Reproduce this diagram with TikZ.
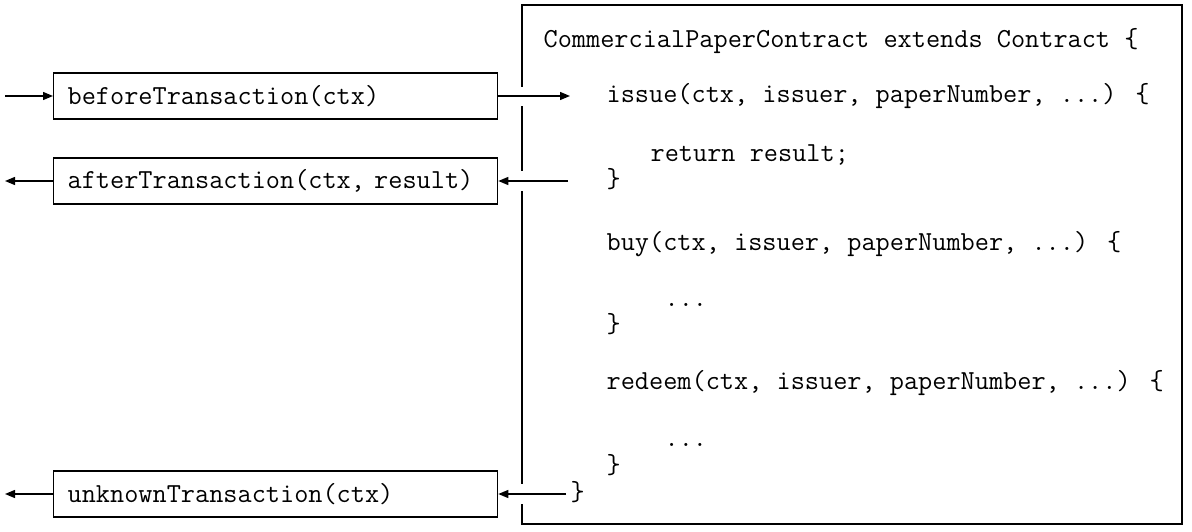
\documentclass[tikz,border=0pt]{standalone}
\usepackage{fontspec}
\usetikzlibrary{arrows.meta}
\newcommand{\codefont}{\ttfamily\fontsize{27.5}{32}\selectfont}
\tikzset{
  x=1pt,y=-1pt,
  every path/.style={line width=1.3pt},
  hook/.style={draw, line width=1.3pt, anchor=west, minimum height=46pt,
    inner xsep=14pt, inner ysep=0pt, text width=416pt, align=left,
    font=\codefont},
  code/.style={anchor=west, inner sep=0pt, text height=19pt, text depth=6pt,
    font=\codefont},
  arr/.style={-{Triangle[length=10pt,width=8pt]}, line width=1.3pt},
}
\begin{document}
\begin{tikzpicture}
\useasboundingbox (0,0) rectangle (1192,532);
% main box
\draw[line width=1.3pt] (522,5) rectangle (1182,524);
\fill[white] (515,87) rectangle (529,106);
\fill[white] (515,171) rectangle (529,191);
\fill[white] (515,484) rectangle (529,504);
% code
\node[code] (head) at (543,41) {CommercialPaperContract extends Contract \{};
\node[code] (issue) at (606,96) {issue(ctx, issuer, paperNumber, ...) \{};
\node[code] (ret) at (650,155) {return result;};
\node[code] (cissue) at (606,181) {\}};
\node[code] (buy) at (606,244) {buy(ctx, issuer, paperNumber, ...) \{};
\node[code] (dbuy) at (664,300) {...};
\node[code] (cbuy) at (606,326) {\}};
\node[code] (redeem) at (606,383) {redeem(ctx, issuer, paperNumber, ...) \{};
\node[code] (dred) at (664,440) {...};
\node[code] (cred) at (606,467) {\}};
\node[code] (call) at (570,494) {\}};
% hook boxes
\node[hook] (before) at (53,96) {beforeTransaction(ctx)};
\node[hook] (after) at (53,181) {afterTransaction(ctx, result)};
\node[hook] (unknown) at (53,494) {unknownTransaction(ctx)};
% free ends
\coordinate (inb) at (5,96);
\coordinate (outa) at (5,181);
\coordinate (outu) at (5,494);
% connectors
\draw[arr] (inb) -- (before.west);
\draw[arr] (before.east) -- ([xshift=-36pt]issue.west);
\draw[arr] ([xshift=-38pt]cissue.west) -- (after.east);
\draw[arr] (after.west) -- (outa);
\draw[arr] ([xshift=-4pt]call.west) -- (unknown.east);
\draw[arr] (unknown.west) -- (outu);
\end{tikzpicture}
\end{document}
